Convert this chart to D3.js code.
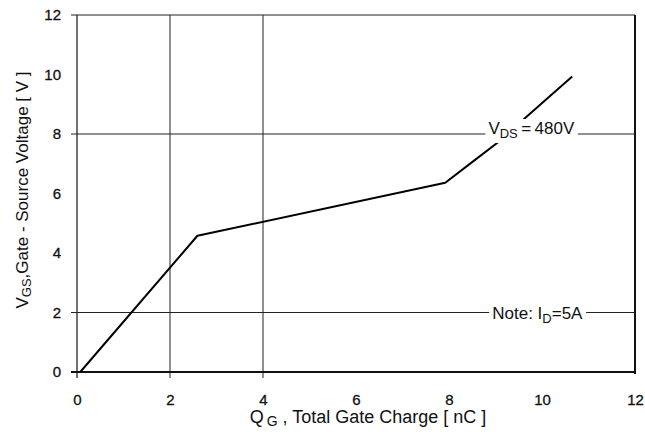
<!DOCTYPE html>
<html>
<head>
<meta charset="utf-8">
<script src="https://cdn.jsdelivr.net/npm/d3@7"></script>
<style>
  body { margin: 0; background: #fff; }
  text { font-family: "Liberation Sans", Arial, sans-serif; }
</style>
</head>
<body>
<div id="chart"></div>
<script>
// axis ticks
var qTicks = [0, 2, 4, 6, 8, 10, 12];
var vTicks = [0, 2, 4, 6, 8, 10, 12];
// grid lines drawn in the original
var qGrid = [2, 4];
var vGrid = [2, 8];
// gate charge curve
var qg  = [0.07, 2.59, 7.92, 8.56, 9.07, 9.71, 10.65];
var vgs = [0, 4.58, 6.36, 7.13, 7.74, 8.64, 9.93];

var margin = { top: 15, right: 10, bottom: 64, left: 77 };
var W = 645, H = 436;
var w = W - margin.left - margin.right;
var h = H - margin.top - margin.bottom;

var x = d3.scaleLinear().domain([0, 12]).range([0, w]);
var y = d3.scaleLinear().domain([0, 12]).range([h, 0]);

var svg = d3.select('#chart')
  .append('svg')
  .attr('width', W)
  .attr('height', H)
  .append('g')
  .attr('transform', 'translate(' + margin.left + ',' + margin.top + ')');

// vertical grid lines (stick out below the axis a little)
svg.selectAll('.vgrid')
  .data(qGrid)
  .enter()
  .append('line')
  .attr('x1', function(d) { return x(d); })
  .attr('x2', function(d) { return x(d); })
  .attr('y1', 0)
  .attr('y2', h + 6)
  .attr('stroke', '#222')
  .attr('stroke-width', 1);

// horizontal grid lines (stick out left of the axis)
svg.selectAll('.hgrid')
  .data(vGrid)
  .enter()
  .append('line')
  .attr('x1', -6)
  .attr('x2', w)
  .attr('y1', function(d) { return y(d); })
  .attr('y2', function(d) { return y(d); })
  .attr('stroke', '#222')
  .attr('stroke-width', 1);

// frame: top, left, right, bottom
svg.append('line').attr('x1', -6).attr('x2', w).attr('y1', y(12)).attr('y2', y(12))
  .attr('stroke', '#222').attr('stroke-width', 1);
svg.append('line').attr('x1', 0).attr('x2', 0).attr('y1', 0).attr('y2', h + 6)
  .attr('stroke', '#222').attr('stroke-width', 1.3);
svg.append('line').attr('x1', w).attr('x2', w).attr('y1', 0).attr('y2', h + 2)
  .attr('stroke', '#111').attr('stroke-width', 2);
svg.append('line').attr('x1', -6).attr('x2', w + 1).attr('y1', h).attr('y2', h)
  .attr('stroke', '#111').attr('stroke-width', 2);

// tick labels
var xAxis = d3.axisBottom(x).tickValues(qTicks).tickSize(0).tickPadding(22).tickFormat(d3.format('d'));
var gx = svg.append('g').attr('transform', 'translate(0,' + h + ')').call(xAxis);
var yAxis = d3.axisLeft(y).tickValues(vTicks).tickSize(0).tickPadding(16).tickFormat(d3.format('d'));
var gy = svg.append('g').call(yAxis);
[gx, gy].forEach(function(g) {
  g.select('.domain').remove();
  g.selectAll('text').attr('font-size', '15px').attr('fill', '#111')
    .attr('stroke', '#111').attr('stroke-width', 0.3)
    .attr('font-family', '"Liberation Sans", Arial, sans-serif');
});

// curve
var line = d3.line()
  .x(function(d, i) { return x(qg[i]); })
  .y(function(d, i) { return y(vgs[i]); });
svg.append('path')
  .datum(qg)
  .attr('d', line)
  .attr('fill', 'none')
  .attr('stroke', '#000')
  .attr('stroke-width', 2)
  .attr('stroke-linejoin', 'round');

// annotations with a white box behind them
function note(parts, qx, vy, dy) {
  var g = svg.append('g');
  var t = g.append('text')
    .attr('x', x(qx))
    .attr('y', y(vy) + dy)
    .attr('text-anchor', 'middle')
    .attr('font-size', '17px')
    .attr('fill', '#111');
  parts.forEach(function(p) {
    var s = t.append('tspan').text(p.t);
    if (p.sub) s.attr('font-size', '13px').attr('dy', 4);
    if (p.back) s.attr('dy', -4);
  });
  var b = t.node().getBBox();
  g.insert('rect', 'text')
    .attr('x', b.x - 3)
    .attr('y', b.y)
    .attr('width', b.width + 6)
    .attr('height', b.height + 2)
    .attr('fill', '#fff');
}
note([{ t: 'V' }, { t: 'DS', sub: true }, { t: '\u2009=\u2009480V', back: true }], 9.77, 8, 0);
note([{ t: 'Note: I' }, { t: 'D', sub: true }, { t: '=5A', back: true }], 9.9, 2, 6);

// axis titles
var xt = svg.append('text')
  .attr('x', 368 - margin.left)
  .attr('y', 423 - margin.top)
  .attr('text-anchor', 'middle')
  .attr('font-size', '18px')
  .attr('fill', '#111');
xt.append('tspan').text('Q');
xt.append('tspan').text('G').attr('font-size', '14px').attr('dx', 3).attr('dy', 3);
xt.append('tspan').text(' , Total Gate Charge [ nC ]').attr('dy', -3);

var yt = svg.append('text')
  .attr('transform', 'translate(' + (28 - margin.left) + ',' + (190 - margin.top) + ') rotate(-90)')
  .attr('text-anchor', 'middle')
  .attr('font-size', '17px')
  .attr('fill', '#111');
yt.append('tspan').text('V');
yt.append('tspan').text('GS').attr('font-size', '13px').attr('dy', 3);
yt.append('tspan').text(',Gate - Source Voltage [ V ]').attr('dy', -3);
</script>
</body>
</html>
